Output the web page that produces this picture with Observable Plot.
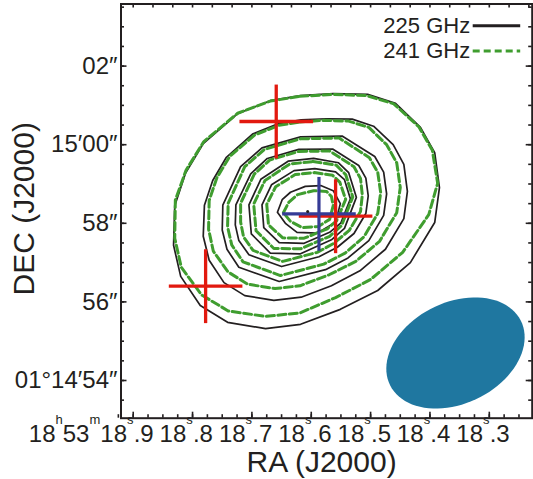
<!DOCTYPE html>
<html><head><meta charset="utf-8">
<script src="https://cdn.jsdelivr.net/npm/d3@7"></script>
<script src="https://cdn.jsdelivr.net/npm/@observablehq/plot@0.6"></script>
<style>html,body{margin:0;padding:0;background:#fff}svg{display:block}</style>
</head><body><div id="chart"></div>
<script>
// ---------- axis ticks / labels ----------
const raTicks = [18.9, 18.8, 18.7, 18.6, 18.5, 18.4, 18.3];
const raTickLabels = ["18.9", "18.8", "18.7", "18.6", "18.5", "18.4", "18.3"];
const raFirstHours = "18", raFirstMinutes = "53";
const decTicks = [54, 56, 58, 60, 62];
const decTickLabels = ["01°14′54″", "56″", "58″", "15′00″", "02″"];
const xTitle = "RA (J2000)", yTitle = "DEC (J2000)";
const seriesNames = ["225 GHz", "241 GHz"];

// ---------- 225 GHz contours (RA s, Dec ″ past 01°14′) ----------
const c225_1 = [[18.618,61.25],[18.563,61.30],[18.505,61.28],[18.458,61.05],[18.416,60.44],[18.392,59.80],[18.384,58.91],[18.392,58.02],[18.433,57.00],[18.488,56.29],[18.551,55.81],[18.618,55.43],[18.677,55.32],[18.741,55.48],[18.787,55.91],[18.820,56.65],[18.832,57.44],[18.830,58.45],[18.812,59.27],[18.782,60.03],[18.724,60.79],[18.669,61.12]];
const c225_2 = [[18.617,60.63],[18.575,60.66],[18.531,60.65],[18.495,60.47],[18.462,60.00],[18.444,59.50],[18.438,58.81],[18.444,58.12],[18.475,57.34],[18.518,56.79],[18.566,56.41],[18.617,56.12],[18.663,56.04],[18.712,56.16],[18.747,56.49],[18.772,57.06],[18.782,57.67],[18.780,58.46],[18.766,59.09],[18.743,59.68],[18.699,60.27],[18.656,60.53]];
const c225_3 = [[18.618,60.20],[18.548,60.22],[18.493,59.70],[18.478,59.30],[18.473,58.75],[18.478,58.20],[18.503,57.56],[18.538,57.12],[18.576,56.82],[18.654,56.52],[18.722,56.88],[18.742,57.34],[18.750,57.83],[18.749,58.46],[18.719,59.44],[18.683,59.92]];
const c225_4 = [[18.621,59.88],[18.564,59.89],[18.520,59.47],[18.508,59.15],[18.504,58.70],[18.508,58.25],[18.528,57.74],[18.556,57.39],[18.587,57.15],[18.650,56.90],[18.705,57.20],[18.722,57.56],[18.728,57.96],[18.727,58.47],[18.702,59.26],[18.674,59.65]];
const c225_5 = [[18.596,59.65],[18.554,59.54],[18.537,59.29],[18.524,58.66],[18.544,57.87],[18.566,57.58],[18.619,57.22],[18.669,57.24],[18.701,57.73],[18.705,58.47],[18.685,59.12],[18.639,59.58]];
const c225_6 = [[18.594,59.39],[18.559,59.31],[18.544,59.11],[18.534,58.62],[18.550,58.01],[18.569,57.77],[18.612,57.49],[18.654,57.51],[18.680,57.89],[18.683,58.47],[18.667,58.98],[18.629,59.34]];
const c225_7 = [[18.657,58.28],[18.649,58.60],[18.635,58.79],[18.610,58.94],[18.584,58.96],[18.563,58.83],[18.551,58.50],[18.559,58.03],[18.590,57.75],[18.624,57.77],[18.643,57.99]];

// ---------- 241 GHz contours ----------
const c241_1 = [[18.619,61.23],[18.564,61.28],[18.507,61.25],[18.461,61.04],[18.419,60.46],[18.396,59.86],[18.387,59.02],[18.402,58.22],[18.446,57.26],[18.500,56.57],[18.559,56.11],[18.619,55.72],[18.677,55.63],[18.740,55.77],[18.785,56.18],[18.819,56.88],[18.830,57.62],[18.829,58.59],[18.811,59.35],[18.781,60.08],[18.724,60.80],[18.669,61.11]];
const c241_2 = [[18.619,60.58],[18.579,60.62],[18.537,60.60],[18.503,60.44],[18.473,60.00],[18.456,59.54],[18.450,58.91],[18.456,58.27],[18.485,57.54],[18.525,57.03],[18.570,56.69],[18.619,56.41],[18.661,56.34],[18.707,56.45],[18.740,56.76],[18.765,57.29],[18.773,57.85],[18.772,58.58],[18.759,59.16],[18.737,59.71],[18.695,60.25],[18.655,60.49]];
const c241_3 = [[18.618,60.15],[18.553,60.17],[18.502,59.67],[18.488,59.30],[18.483,58.78],[18.488,58.25],[18.511,57.66],[18.543,57.24],[18.579,56.96],[18.652,56.67],[18.715,57.02],[18.734,57.45],[18.741,57.91],[18.740,58.51],[18.712,59.44],[18.679,59.88]];
const c241_4 = [[18.621,59.83],[18.569,59.84],[18.528,59.44],[18.517,59.14],[18.514,58.72],[18.517,58.30],[18.536,57.82],[18.562,57.49],[18.590,57.26],[18.648,57.03],[18.698,57.31],[18.714,57.65],[18.719,58.03],[18.719,58.51],[18.696,59.25],[18.670,59.61]];
const c241_5 = [[18.597,59.57],[18.558,59.48],[18.542,59.24],[18.530,58.67],[18.549,57.94],[18.569,57.67],[18.618,57.35],[18.663,57.36],[18.693,57.81],[18.697,58.49],[18.678,59.09],[18.636,59.51]];
const c241_6 = [[18.595,59.29],[18.564,59.22],[18.552,59.05],[18.542,58.61],[18.557,58.07],[18.573,57.86],[18.612,57.62],[18.648,57.63],[18.672,57.96],[18.675,58.48],[18.660,58.93],[18.627,59.24]];
const c241_7 = [[18.647,58.27],[18.638,58.53],[18.623,58.73],[18.596,58.83],[18.574,58.81],[18.566,58.68],[18.563,58.45],[18.569,58.10],[18.588,57.92],[18.615,57.89],[18.635,58.05]];

// ---------- source positions (crosses) ----------
const crossRA = [18.659, 18.778, 18.559, 18.587];
const crossDec = [60.59, 56.40, 58.18, 58.24];
const crossErrRA = [0.062, 0.062, 0.062, 0.062];
const crossErrDec = [0.94, 0.94, 0.94, 0.94];
const crossKind = ["red", "red", "red", "blue"];
const peakPos = [18.606, 58.30];

// ---------- synthesized beam ----------
const beamRA = 18.357, beamDec = 54.70, beamMajor = 3.69, beamMinor = 2.57, beamPA = 116.5;

// ---------- styling ----------
const INK = "#231f20", GREEN = "#3f9d2f", RED = "#e2190f", BLUE = "#353b96", BEAM = "#1f77a0";
const FONT = "'Liberation Sans', Arial, Helvetica, sans-serif";
const W = 533, H = 479, ML = 120.5, MR = 1.3, MT = 3.5, MB = 61.3;
const PW = W - ML - MR, PH = H - MT - MB;

const toRows = (list) => list.flatMap((c, k) => c.map(([ra, dec]) => ({ra, dec, level: k})));
const rows225 = toRows([c225_1, c225_2, c225_3, c225_4, c225_5, c225_6, c225_7]);
const rows241 = toRows([c241_1, c241_2, c241_3, c241_4, c241_5, c241_6, c241_7]);
const crosses = crossRA.map((ra, i) => ({ra, dec: crossDec[i], era: crossErrRA[i], edec: crossErrDec[i], kind: crossKind[i]}));

const pa = beamPA * Math.PI / 180, cosDec = Math.cos((1 + 15 / 60) * Math.PI / 180);
const beamPts = d3.range(0, 360, 4).map(t => {
  const r = t * Math.PI / 180, a = beamMajor / 2, b = beamMinor / 2;
  const n = a * Math.cos(r) * Math.cos(pa) - b * Math.sin(r) * Math.sin(pa);
  const e = a * Math.cos(r) * Math.sin(pa) + b * Math.sin(r) * Math.cos(pa);
  return {ra: beamRA + e / (15 * cosDec), dec: beamDec + n};
});

const raMinor = d3.range(18.25, 18.926, 0.025);
const raTop = d3.range(0, 21).map(k => 18.9 - k / 30);
const decMinor = d3.range(53.5, 63.6, 0.5);

// legend inside the top-right corner of the frame
function legend(index, scales, values, dim) {
  const g = d3.create("svg:g").attr("font-family", FONT).attr("font-size", 22).attr("fill", INK);
  const right = dim.width - dim.marginRight, top = dim.marginTop;
  seriesNames.forEach((s, i) => {
    g.append("text").attr("x", right - 61.5).attr("y", top + 29.5 + i * 24.5)
      .attr("text-anchor", "end").text(s);
    g.append("line").attr("x1", right - 59).attr("x2", right - 11.5)
      .attr("y1", top + 22.2 + i * 25.3).attr("y2", top + 22.2 + i * 25.3)
      .attr("stroke", i === 0 ? INK : GREEN).attr("stroke-width", 3)
      .attr("stroke-dasharray", i === 0 ? null : "7,4");
  });
  return g.node();
}

// RA tick labels: "18ˢ.8" with raised unit letters
function raLabels(index, scales, values, dim) {
  const g = d3.create("svg:g").attr("font-family", FONT).attr("fill", INK).attr("text-anchor", "start");
  const base = dim.height - dim.marginBottom + 24.6;
  const up = -18.3;
  raTicks.forEach((t, i) => {
    const x = scales.x(t);
    const [intPart, frac] = raTickLabels[i].split(".");
    const text = g.append("text").attr("y", base).attr("font-size", 24).attr("text-anchor", "start");
    if (i === 0) {
      text.attr("x", x - 103.9);
      text.append("tspan").text(raFirstHours);
      text.append("tspan").attr("font-size", 13).attr("dy", up).text("h");
      text.append("tspan").attr("dy", -up).text(raFirstMinutes);
      text.append("tspan").attr("font-size", 13).attr("dy", up).text("m");
      text.append("tspan").attr("dy", -up).text(intPart);
    } else {
      text.attr("x", x - 32.5);
      text.append("tspan").text(intPart);
    }
    text.append("tspan").attr("font-size", 13).attr("dy", up).text("s");
    text.append("tspan").attr("dx", 0.2).attr("dy", -up).text("." + frac);
  });
  return g.node();
}

const chart = Plot.plot({
  width: W, height: H,
  marginLeft: ML, marginRight: MR, marginTop: MT, marginBottom: MB,
  x: {domain: [18.92056, 18.22772], axis: null},
  y: {domain: [53.0407, 63.580], axis: null},
  style: {fontFamily: FONT, background: "#fff", color: INK, overflow: "visible"},
  marks: [
    // contours
    Plot.line(rows225, {x: "ra", y: "dec", z: "level", curve: "linear-closed", stroke: INK, strokeWidth: 1.7, strokeLinejoin: "round"}),
    Plot.line(rows241, {x: "ra", y: "dec", z: "level", curve: "linear-closed", stroke: GREEN, strokeWidth: 3, strokeDasharray: "8,3.5"}),
    // beam
    Plot.line(beamPts, {x: "ra", y: "dec", curve: "linear-closed", fill: BEAM, stroke: "none"}),
    // crosses
    Plot.link(crosses.filter(d => d.kind === "red"), {x1: d => d.ra + d.era, x2: d => d.ra - d.era, y1: "dec", y2: "dec", stroke: RED, strokeWidth: 3.3}),
    Plot.link(crosses.filter(d => d.kind === "blue"), {x1: d => d.ra + d.era, x2: d => d.ra - d.era, y1: "dec", y2: "dec", stroke: BLUE, strokeWidth: 3.2}),
    Plot.link(crosses.filter(d => d.kind === "blue"), {x1: "ra", x2: "ra", y1: d => d.dec - d.edec, y2: d => d.dec + d.edec, stroke: BLUE, strokeWidth: 3.2}),
    Plot.link(crosses.filter(d => d.kind === "red"), {x1: "ra", x2: "ra", y1: d => d.dec - d.edec, y2: d => d.dec + d.edec, stroke: RED, strokeWidth: 3.3}),
    Plot.dot([peakPos], {x: d => d[0], y: d => d[1], r: 1.5, fill: INK, stroke: "none"}),
    // ticks (inward)
    Plot.tickX(raTicks, {x: d => d, insetTop: PH - 6, stroke: INK, strokeWidth: 1.6}),
    Plot.tickX(raMinor, {x: d => d, insetTop: PH - 3.5, stroke: INK, strokeWidth: 1.6}),
    Plot.tickX(raTop, {x: d => d, insetBottom: PH - 4, stroke: INK, strokeWidth: 1.6}),
    Plot.tickY(decTicks, {y: d => d, insetRight: PW - 6, stroke: INK, strokeWidth: 1.6}),
    Plot.tickY(decMinor, {y: d => d, insetRight: PW - 3.5, stroke: INK, strokeWidth: 1.6}),
    Plot.tickY(decTicks, {y: d => d, insetLeft: PW - 6, stroke: INK, strokeWidth: 1.6}),
    Plot.tickY(decMinor, {y: d => d, insetLeft: PW - 3.5, stroke: INK, strokeWidth: 1.6}),
    Plot.frame({stroke: INK, strokeWidth: 2}),
    // y tick labels
    Plot.text(decTicks, {y: d => d, frameAnchor: "left", text: (d, i) => decTickLabels[i], textAnchor: "end", lineAnchor: "middle", dx: -3.5, fontSize: 24, fill: INK}),
    // x tick labels
    raLabels,
    // axis titles
    Plot.text([xTitle], {frameAnchor: "bottom", text: d => d, textAnchor: "middle", lineAnchor: "middle", dx: -5, dy: 44.4, fontSize: 30, fill: INK}),
    Plot.text([yTitle], {frameAnchor: "left", text: d => d, rotate: -90, textAnchor: "middle", lineAnchor: "middle", dx: -96.6, dy: -2.3, fontSize: 30, fill: INK}),
    legend
  ]
});
document.getElementById("chart").append(chart);
</script>
</body></html>
